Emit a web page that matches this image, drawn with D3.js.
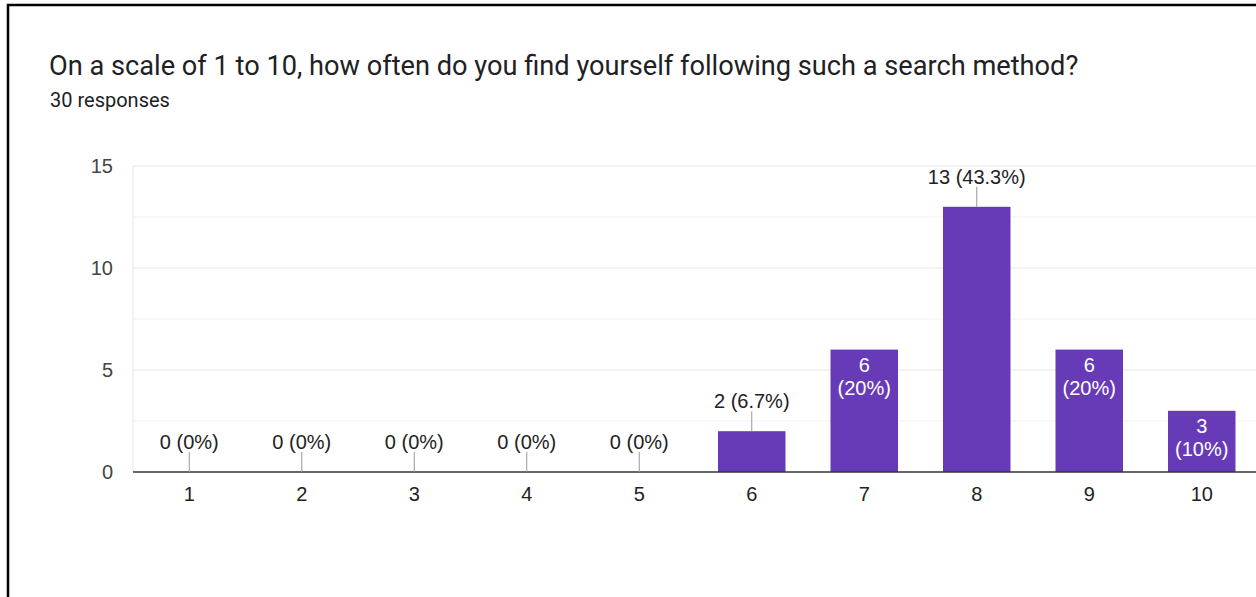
<!DOCTYPE html>
<html>
<head>
<meta charset="utf-8">
<script src="https://cdn.jsdelivr.net/npm/d3@7.9.0/dist/d3.min.js"></script>
<style>
  html, body { margin: 0; padding: 0; background: #fff; }
  svg { display: block; }
  .title { font-family: Roboto, "Noto Sans", sans-serif; font-size: 27.2px; fill: #202124; }
  .sub { font-family: Roboto, "Noto Sans", sans-serif; font-size: 20px; fill: #202124; }
  .tick text, .lbl { font-family: "Liberation Sans", Arial, sans-serif; font-size: 20px; }
</style>
</head>
<body>
<svg id="chart" width="1256" height="597"></svg>
<script>
const categories = ['1', '2', '3', '4', '5', '6', '7', '8', '9', '10'];
const counts = [0, 0, 0, 0, 0, 2, 6, 13, 6, 3];
const percents = ['0%', '0%', '0%', '0%', '0%', '6.7%', '20%', '43.3%', '20%', '10%'];
// where google put each value label
const labelInside = [false, false, false, false, false, false, true, false, true, true];
const yTicks = [0, 5, 10, 15];
const yGrid = [2.5, 5, 7.5, 10, 12.5, 15];

const svg = d3.select('#chart');

// frame of the screenshot
svg.append('rect')
   .attr('x', 8).attr('y', 5)
   .attr('width', 1300).attr('height', 650)
   .attr('fill', 'none')
   .attr('stroke', '#000')
   .attr('stroke-width', 2.5);

svg.append('text').attr('class', 'title')
   .attr('x', 49).attr('y', 75)
   .text('On a scale of 1 to 10, how often do you find yourself following such a search method?');

svg.append('text').attr('class', 'sub')
   .attr('x', 50).attr('y', 107)
   .text('30 responses');

const plotLeft = 133, plotRight = 1258, plotTop = 166, plotBottom = 472;

let x = d3.scaleBand().domain(categories).range([plotLeft, plotRight]).paddingInner(0.4).paddingOuter(0.2);
let y = d3.scaleLinear().domain([0, 15]).range([plotBottom, plotTop]);

// gridlines
svg.append('g').selectAll('line')
   .data(yGrid)
   .join('line')
   .attr('x1', plotLeft).attr('x2', plotRight)
   .attr('y1', (d) => y(d)).attr('y2', (d) => y(d))
   .attr('stroke', (d) => d % 5 === 0 ? '#e6e6e6' : '#f2f2f2')
   .attr('stroke-width', 1);

svg.append('line')
   .attr('x1', plotLeft).attr('x2', plotLeft)
   .attr('y1', plotTop).attr('y2', plotBottom)
   .attr('stroke', '#e6e6e6');

// y axis labels
let yAxis = d3.axisLeft(y).tickValues(yTicks).tickSize(0).tickPadding(20);
let gy = svg.append('g').attr('transform', `translate(${plotLeft},0)`).call(yAxis);
gy.select('.domain').remove();
gy.selectAll('text').attr('fill', '#444');

// bars
svg.append('g').selectAll('rect')
   .data(counts)
   .join('rect')
   .attr('x', (d, i) => x(categories[i]))
   .attr('y', (d) => y(d))
   .attr('width', x.bandwidth())
   .attr('height', (d) => plotBottom - y(d))
   .attr('fill', '#673ab7');

// baseline
svg.append('line')
   .attr('x1', plotLeft).attr('x2', plotRight)
   .attr('y1', plotBottom).attr('y2', plotBottom)
   .attr('stroke', '#333').attr('stroke-width', 1.5);

// x axis labels
let xAxis = d3.axisBottom(x).tickSize(0).tickPadding(15);
let gx = svg.append('g').attr('transform', `translate(0,${plotBottom})`).call(xAxis);
gx.select('.domain').remove();
gx.selectAll('text').attr('fill', '#222');

// value labels
counts.forEach((v, i) => {
    let cx = x(categories[i]) + x.bandwidth() / 2;
    let barTop = y(v);
    if (labelInside[i]) {
        svg.append('text').attr('class', 'lbl')
           .attr('x', cx).attr('y', barTop + 22)
           .attr('text-anchor', 'middle').attr('fill', '#fff')
           .text(v);
        svg.append('text').attr('class', 'lbl')
           .attr('x', cx).attr('y', barTop + 45)
           .attr('text-anchor', 'middle').attr('fill', '#fff')
           .text(`(${percents[i]})`);
    } else {
        svg.append('line')
           .attr('x1', cx).attr('x2', cx)
           .attr('y1', barTop).attr('y2', barTop - 20)
           .attr('stroke', '#999').attr('stroke-width', 1);
        svg.append('text').attr('class', 'lbl')
           .attr('x', cx).attr('y', barTop - 23)
           .attr('text-anchor', 'middle').attr('fill', '#222')
           .text(`${v} (${percents[i]})`);
    }
});
</script>
</body>
</html>
